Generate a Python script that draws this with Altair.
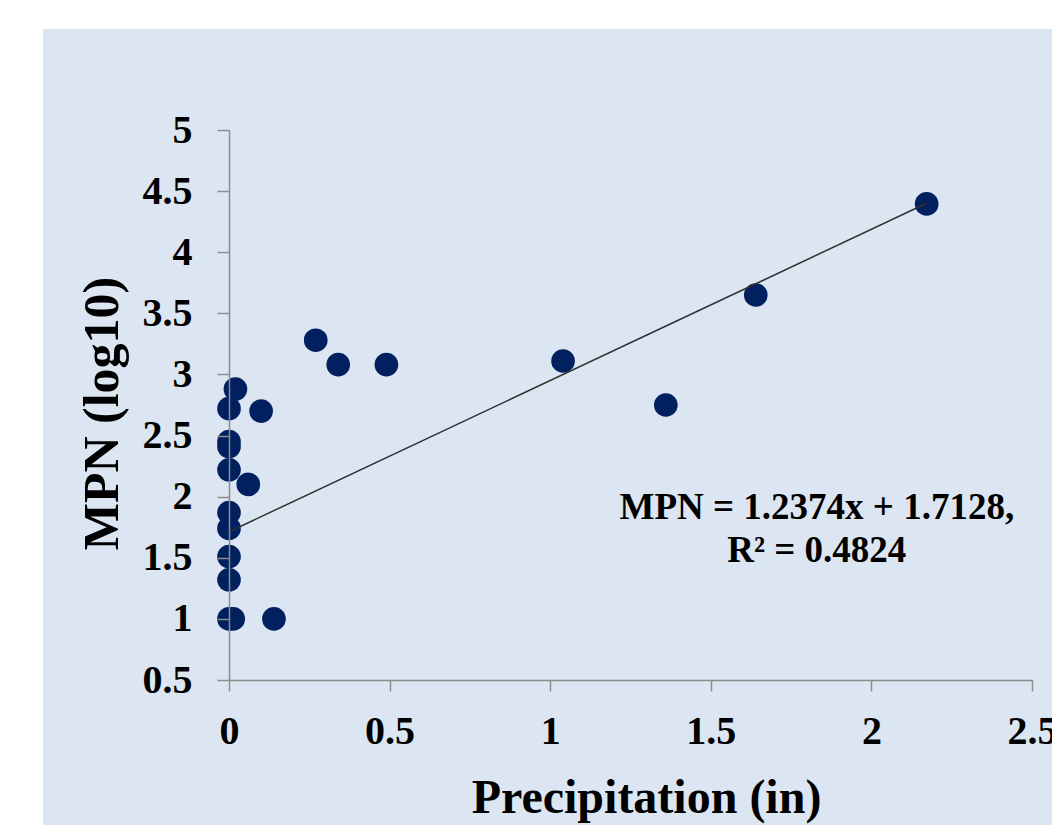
import altair as alt
import pandas as pd

# ---- data ----
precip = [0.02, 0.0, 0.10, 0.0, 0.0, 0.0, 0.06, 0.0, 0.0, 0.0, 0.0, 0.0, 0.013, 0.14,
          0.27, 0.34, 0.49, 1.04, 1.36, 1.64, 2.172]
mpn = [2.88, 2.72, 2.70, 2.45, 2.41, 2.22, 2.10, 1.87, 1.74, 1.51, 1.32, 1.0, 1.0, 1.0,
       3.28, 3.08, 3.08, 3.11, 2.75, 3.65, 4.395]

slope = 1.2374
intercept = 1.7128

x_ticks = [0, 0.5, 1, 1.5, 2, 2.5]
y_ticks = [0.5, 1, 1.5, 2, 2.5, 3, 3.5, 4, 4.5, 5]

ann_text = ["MPN = 1.2374x + 1.7128,", "R² = 0.4824"]
ann_x = [1.83, 1.83]
ann_y = [1.907, 1.556]

# ---- style ----
BG = "#DCE6F2"
NAVY = "#002060"
AXIS_GREY = "#8C8C8C"
FONT = "Liberation Serif"

pts = pd.DataFrame({"precip": precip, "mpn": mpn})
line_df = pd.DataFrame({"precip": [min(precip), max(precip)]})
ann_df = pd.DataFrame({"precip": ann_x, "mpn": ann_y, "label": ann_text})
bg_df = pd.DataFrame({"a": [0]})

xscale = alt.Scale(domain=[0, 2.5], nice=False, zero=False)
yscale = alt.Scale(domain=[0.5, 5], nice=False, zero=False)

x_axis = alt.Axis(
    values=x_ticks, format="~g", grid=False, zindex=1,
    domainColor=AXIS_GREY, domainWidth=1.5, tickColor=AXIS_GREY, tickWidth=1.5, tickSize=11,
    labelFont=FONT, labelFontSize=40, labelFontWeight="bold", labelColor="black",
    labelPadding=20, labelFlush=False, labelOverlap=False,
    title="Precipitation (in)", titleFont=FONT, titleFontSize=48, titleFontWeight="bold",
    titleColor="black", titleX=417, titleY=132, titleBaseline="alphabetic",
)
y_axis = alt.Axis(
    values=y_ticks, format="~g", grid=False, zindex=1,
    domainColor=AXIS_GREY, domainWidth=1.5, tickColor=AXIS_GREY, tickWidth=1.5, tickSize=12,
    labelFont=FONT, labelFontSize=40, labelFontWeight="bold", labelColor="black",
    labelPadding=25, labelFlush=False, labelOverlap=False,
    title="MPN (log10)", titleFont=FONT, titleFontSize=50, titleFontWeight="bold",
    titleColor="black", titleX=-112, titleY=283, titleBaseline="alphabetic", titleAngle=270,
)

bg = alt.Chart(bg_df).mark_rect(color=BG).encode(
    x=alt.value(-186), x2=alt.value(860), y=alt.value(-101), y2=alt.value(740)
)

points = alt.Chart(pts).mark_circle(size=560, color=NAVY, opacity=1).encode(
    x=alt.X("precip:Q", scale=xscale, axis=x_axis),
    y=alt.Y("mpn:Q", scale=yscale, axis=y_axis),
)

trend = alt.Chart(line_df).transform_calculate(
    mpn=f"{slope} * datum.precip + {intercept}"
).mark_line(color="#303030", strokeWidth=1.5).encode(
    x=alt.X("precip:Q", scale=xscale),
    y=alt.Y("mpn:Q", scale=yscale),
)

ann = alt.Chart(ann_df).mark_text(
    font=FONT, fontSize=37, fontWeight="bold", color="black", align="center", baseline="middle"
).encode(
    x=alt.X("precip:Q", scale=xscale),
    y=alt.Y("mpn:Q", scale=yscale),
    text="label:N",
)

chart = alt.layer(bg, points, trend, ann).properties(
    width=803, height=550,
    autosize=alt.AutoSizeParams(type="none"),
    padding={"left": 221, "top": 122, "right": 20, "bottom": 145},
    background="white",
).configure_view(strokeWidth=0)

chart.save("out.html", embed_options={"renderer": "svg", "actions": False})
